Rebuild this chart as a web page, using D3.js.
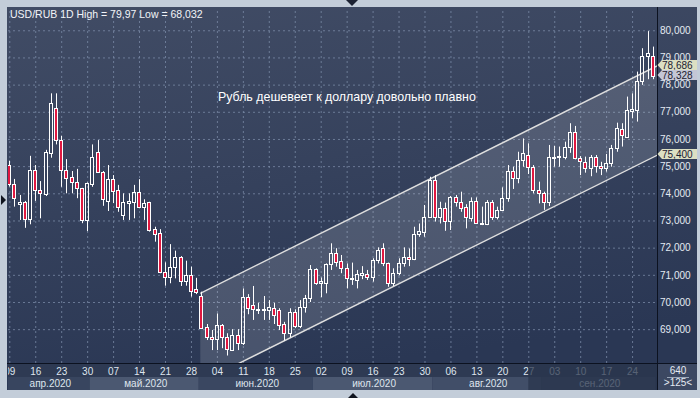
<!DOCTYPE html>
<html>
<head>
<meta charset="utf-8">
<script src="https://cdnjs.cloudflare.com/ajax/libs/d3/7.8.5/d3.min.js"></script>
<style>
  body { margin: 0; background: #c3cdd9; }
  svg { display: block; font-family: "Liberation Sans", Arial, sans-serif; }
</style>
</head>
<body>
<div id="chart"></div>
<script>
// Trading days shown (one bar per weekday)
var dates = [
  "2020-04-09","2020-04-10","2020-04-13","2020-04-14","2020-04-15","2020-04-16","2020-04-17","2020-04-20","2020-04-21","2020-04-22",
  "2020-04-23","2020-04-24","2020-04-27","2020-04-28","2020-04-29","2020-04-30","2020-05-01","2020-05-04","2020-05-05","2020-05-06",
  "2020-05-07","2020-05-08","2020-05-11","2020-05-12","2020-05-13","2020-05-14","2020-05-15","2020-05-18","2020-05-19","2020-05-20",
  "2020-05-21","2020-05-22","2020-05-25","2020-05-26","2020-05-27","2020-05-28","2020-05-29","2020-06-01","2020-06-02","2020-06-03",
  "2020-06-04","2020-06-05","2020-06-08","2020-06-09","2020-06-10","2020-06-11","2020-06-12","2020-06-15","2020-06-16","2020-06-17",
  "2020-06-18","2020-06-19","2020-06-22","2020-06-23","2020-06-24","2020-06-25","2020-06-26","2020-06-29","2020-06-30","2020-07-01",
  "2020-07-02","2020-07-03","2020-07-06","2020-07-07","2020-07-08","2020-07-09","2020-07-10","2020-07-13","2020-07-14","2020-07-15",
  "2020-07-16","2020-07-17","2020-07-20","2020-07-21","2020-07-22","2020-07-23","2020-07-24","2020-07-27","2020-07-28","2020-07-29",
  "2020-07-30","2020-07-31","2020-08-03","2020-08-04","2020-08-05","2020-08-06","2020-08-07","2020-08-10","2020-08-11","2020-08-12",
  "2020-08-13","2020-08-14","2020-08-17","2020-08-18","2020-08-19","2020-08-20","2020-08-21","2020-08-24","2020-08-25","2020-08-26",
  "2020-08-27","2020-08-28","2020-08-31","2020-09-01","2020-09-02","2020-09-03","2020-09-04","2020-09-07","2020-09-08","2020-09-09",
  "2020-09-10","2020-09-11","2020-09-14","2020-09-15","2020-09-16","2020-09-17","2020-09-18","2020-09-21","2020-09-22","2020-09-23",
  "2020-09-24","2020-09-25","2020-09-28","2020-09-29","2020-09-30"
];

var open = [
  75.04,74.34,73.62,73.67,73.04,74.85,74.11,73.97,75.50,77.13,
  75.96,74.85,74.60,74.41,74.18,73.02,74.36,75.51,74.80,73.73,
  74.52,74.11,73.20,73.65,73.69,74.04,73.49,73.67,72.68,72.53,
  71.09,70.91,71.30,71.64,70.77,70.98,70.48,70.22,69.07,68.70,
  68.63,69.15,68.71,68.25,68.79,68.50,70.18,69.88,69.72,69.75,
  69.71,69.77,69.71,69.19,68.85,69.63,69.12,69.81,70.14,71.20,
  70.71,70.71,71.40,71.79,71.51,71.24,70.87,70.81,71.00,71.03,
  70.93,71.56,71.97,71.42,70.69,71.08,71.42,71.67,71.60,72.52,
  72.59,73.14,74.49,73.14,73.47,72.99,73.85,73.67,73.51,73.08,
  73.72,72.92,72.86,73.67,73.14,73.39,73.82,74.82,74.58,75.23,
  75.41,74.96,74.12,74.00,73.69,75.30,75.33,75.35,75.69,76.27,
  75.29,75.16,74.92,75.33,75.00,74.92,75.10,75.66,76.37,76.08,
  77.04,77.07,78.13,79.07,79.05
];
var high = [
  75.20,74.53,73.94,73.72,75.38,75.04,74.45,75.60,77.68,77.68,
  76.12,75.26,74.82,74.90,74.20,74.40,75.80,75.96,74.82,75.04,
  74.67,74.31,74.00,74.00,74.31,74.52,73.78,73.69,72.77,72.68,
  71.46,72.13,71.89,71.69,71.52,71.30,70.89,70.38,69.19,68.97,
  69.58,69.19,68.85,69.00,69.00,70.50,70.29,70.59,69.97,70.22,
  70.07,69.97,69.77,69.27,69.77,69.73,70.07,70.26,71.36,71.24,
  70.90,71.42,72.16,71.98,71.73,71.42,71.45,71.18,71.32,71.18,
  71.61,72.01,72.16,71.45,71.24,71.61,72.01,71.97,72.77,72.89,
  73.57,74.61,74.67,73.69,73.66,73.90,73.94,74.06,73.60,73.85,
  73.85,73.51,73.75,73.75,73.51,74.22,75.04,74.98,75.53,76.02,
  75.84,75.04,74.43,74.06,75.78,75.75,75.72,75.90,76.58,76.48,
  75.37,75.35,75.41,75.41,75.16,75.45,75.78,76.60,76.58,77.56,
  77.68,78.48,79.34,79.97,79.40
];
var low = [
  74.25,73.51,73.02,72.73,72.86,73.72,73.08,73.90,75.31,75.80,
  74.24,74.00,74.00,73.82,72.90,72.61,74.24,74.77,73.54,73.35,
  73.64,73.32,73.02,73.02,73.08,73.45,73.02,72.59,72.22,71.06,
  70.60,70.69,70.87,70.59,70.60,70.20,70.29,69.03,68.60,68.23,
  68.23,68.30,68.03,68.23,68.23,68.42,69.55,69.34,69.56,69.34,
  69.34,69.19,68.97,68.58,68.70,69.04,69.04,69.61,70.00,70.63,
  70.18,70.32,71.18,71.30,71.06,70.50,70.63,70.50,70.84,70.81,
  70.75,71.42,71.32,70.56,70.59,70.99,71.30,71.32,71.54,72.40,
  72.40,73.12,72.96,72.89,72.62,72.65,73.51,73.32,72.71,72.96,
  72.90,72.83,72.83,73.02,73.04,73.36,73.69,74.16,74.37,74.98,
  74.71,74.00,73.63,73.39,73.53,74.98,74.98,75.25,75.49,75.25,
  74.67,74.76,74.63,74.76,74.67,74.80,74.98,75.53,75.72,76.06,
  76.76,76.64,77.99,78.20,78.20
];
var close = [
  74.33,73.82,73.68,73.04,74.85,74.11,74.00,75.51,77.31,75.96,
  74.85,74.58,74.41,74.18,73.02,74.37,75.35,74.80,73.78,74.52,
  74.09,73.51,73.69,73.70,74.04,73.49,73.63,72.65,72.49,71.09,
  70.91,71.30,71.64,70.77,70.98,70.42,70.36,69.05,68.70,68.63,
  69.15,68.71,68.28,68.79,68.50,70.18,69.77,69.73,69.75,69.72,
  69.81,69.52,69.15,68.85,69.63,69.12,69.81,70.14,71.20,70.71,
  70.78,71.40,71.79,71.48,71.24,70.87,70.90,71.02,71.05,70.93,
  71.54,71.91,71.42,70.69,71.08,71.42,71.67,71.60,72.52,72.61,
  73.14,74.49,73.14,73.47,72.97,73.86,73.67,73.47,73.12,73.72,
  72.92,72.86,73.67,73.14,73.39,73.82,74.82,74.58,75.23,75.47,
  74.96,74.12,74.00,73.69,75.33,75.35,75.38,75.69,76.27,75.29,
  75.19,74.92,75.33,75.00,74.92,75.10,75.66,76.39,76.13,77.07,
  77.09,78.13,79.07,79.15,78.33
];

var tickDates = [
  "2020-04-09","2020-04-16","2020-04-23","2020-04-30","2020-05-07","2020-05-14","2020-05-21","2020-05-28",
  "2020-06-04","2020-06-11","2020-06-18","2020-06-25","2020-07-02","2020-07-09","2020-07-16","2020-07-23",
  "2020-07-30","2020-08-06","2020-08-13","2020-08-20","2020-08-27","2020-09-03","2020-09-10","2020-09-17","2020-09-24"
];
var monthKeys = ["2020-04","2020-05","2020-06","2020-07","2020-08","2020-09"];
var monthLabels = ["апр.2020","май.2020","июн.2020","июл.2020","авг.2020","сен.2020"];
var priceTicks = [69,70,71,72,73,74,75,76,77,78,79,80];

// price channel: bar index -> upper / lower line values
var channelIdx = [36.8, 124.8];
var channelUpper = [70.32, 78.686];
var channelLower = [67.034, 75.400];

var markValues = [78.686, 78.328, 75.400];
var markColors = ["#dcdfc3", "#c4c7d6", "#dcdfc3"];

var titleText = "USD/RUB 1D High = 79,97 Low = 68,032";
var noteText = "Рубль дешевеет к доллару довольно плавно";
var shadeFrom = "2020-08-27";

(function() {
  var W = 700, H = 398;
  var L = 8, R = 657, T = 8, B = 363;

  var svg = d3.select('#chart').append('svg')
    .attr('width', W).attr('height', H);

  var defs = svg.append('defs');
  var grad = defs.append('linearGradient').attr('id', 'bg')
    .attr('x1', 0).attr('y1', 0).attr('x2', 0.25).attr('y2', 1);
  grad.append('stop').attr('offset', '0%').attr('stop-color', '#414c65');
  grad.append('stop').attr('offset', '100%').attr('stop-color', '#2a3754');

  defs.append('clipPath').attr('id', 'plot')
    .append('rect').attr('x', L).attr('y', T).attr('width', R - L).attr('height', B - T);
  defs.append('clipPath').attr('id', 'xaxis')
    .append('rect').attr('x', L).attr('y', B).attr('width', R - L).attr('height', 27);

  svg.append('rect').attr('width', W).attr('height', H).attr('fill', '#c3cdd9');
  svg.append('rect').attr('x', 7).attr('y', 7).attr('width', 690).attr('height', 383)
    .attr('fill', 'url(#bg)');

  // scales
  var x = d3.scaleLinear().domain([-0.25, 124.8]).range([L, R]);
  var y = d3.scaleLinear().domain([67.755, 80.82]).range([B, T]);

  var tickIdx = tickDates.map(function(d) { return dates.indexOf(d); });

  // grid
  var gy = svg.append('g').attr('transform', 'translate(' + L + ',0)')
    .call(d3.axisLeft(y).tickValues(priceTicks).tickSize(-(R - L)).tickFormat(''));
  var gx = svg.append('g').attr('transform', 'translate(0,' + B + ')')
    .call(d3.axisBottom(x).tickValues(tickIdx).tickSize(-(B - T)).tickFormat(''));
  [gy, gx].forEach(function(g) {
    g.select('.domain').remove();
    g.selectAll('line').attr('stroke', '#7d8daa').attr('stroke-opacity', 0.75)
      .attr('stroke-dasharray', '2,3');
  });

  var plot = svg.append('g').attr('clip-path', 'url(#plot)');

  // channel
  var poly = [
    [x(channelIdx[0]), y(channelUpper[0])], [x(channelIdx[1]), y(channelUpper[1])],
    [x(channelIdx[1]), y(channelLower[1])], [x(channelIdx[0]), y(channelLower[0])]
  ];
  plot.append('path').attr('d', 'M' + poly.join('L') + 'Z')
    .attr('fill', '#ffffff').attr('fill-opacity', 0.14);
  [channelUpper, channelLower].forEach(function(v) {
    plot.append('line')
      .attr('x1', x(channelIdx[0])).attr('y1', y(v[0]))
      .attr('x2', x(channelIdx[1])).attr('y2', y(v[1]))
      .attr('stroke', '#dedede').attr('stroke-width', 1.4);
  });

  // candles
  var bars = plot.selectAll('g.c').data(dates).enter().append('g').attr('class', 'c');
  bars.each(function(d, i) {
    var g = d3.select(this);
    var cx = Math.round(x(i));
    var top = Math.round(y(Math.max(open[i], close[i])));
    var bot = Math.round(y(Math.min(open[i], close[i])));
    if (bot - top < 1) bot = top + 1;
    var up = close[i] >= open[i];
    g.append('line').attr('x1', cx + 0.5).attr('x2', cx + 0.5)
      .attr('y1', y(high[i])).attr('y2', top)
      .attr('stroke', '#ffffff');
    g.append('line').attr('x1', cx + 0.5).attr('x2', cx + 0.5)
      .attr('y1', bot).attr('y2', y(low[i]))
      .attr('stroke', '#ffffff');
    g.append('rect')
      .attr('x', cx - 1.5).attr('y', top + 0.5)
      .attr('width', 3).attr('height', bot - top)
      .attr('fill', up ? 'none' : '#e01840')
      .attr('stroke', '#ffffff').attr('stroke-width', 1);
  });

  // texts
  svg.append('text').attr('x', 10).attr('y', 18).text(titleText)
    .attr('fill', '#f2f4f8').attr('font-size', '10.5px');
  svg.append('text').attr('x', 218).attr('y', 101).text(noteText)
    .attr('fill', '#ffffff').attr('font-size', '12.4px');

  // x axis rows
  var xa = svg.append('g').attr('clip-path', 'url(#xaxis)');
  xa.append('rect').attr('x', L).attr('y', B).attr('width', R - L).attr('height', 14)
    .attr('fill', '#2e3a53');
  var bandColors = ['#38455f', '#4b5871', '#3a4761', '#4b5871', '#414e68', '#3a4660'];
  monthKeys.forEach(function(m, k) {
    var idx = dates.map(function(d, i) { return d.slice(0, 7) === m ? i : -1; })
      .filter(function(i) { return i >= 0; });
    var x0 = Math.max(L, x(idx[0] - 0.5)), x1 = Math.min(R, x(idx[idx.length - 1] + 0.5));
    xa.append('rect').attr('x', x0).attr('y', B + 14).attr('width', x1 - x0).attr('height', 13)
      .attr('fill', bandColors[k]);
    xa.append('text').attr('x', (x0 + x1) / 2 + 1.5).attr('y', B + 24).text(monthLabels[k])
      .attr('text-anchor', 'middle').attr('fill', '#dfe5ee').attr('font-size', '10px');
  });

  var dayAxis = xa.append('g').attr('transform', 'translate(0,' + B + ')')
    .call(d3.axisBottom(x).tickValues(tickIdx).tickSize(0)
      .tickFormat(function(d) { return dates[d].slice(8, 10); }));
  dayAxis.select('.domain').remove();
  dayAxis.selectAll('text').attr('y', 12).attr('dy', null)
    .attr('fill', '#dfe5ee').attr('font-size', '10px').attr('font-family', null);

  var sx = x(dates.indexOf(shadeFrom));
  xa.append('rect').attr('x', sx).attr('y', B).attr('width', R - sx).attr('height', 27)
    .attr('fill', '#2a354c').attr('fill-opacity', 0.75);

  // frame lines
  svg.append('line').attr('x1', R + 0.5).attr('x2', R + 0.5).attr('y1', 7).attr('y2', 390)
    .attr('stroke', '#0c1220');
  svg.append('line').attr('x1', 7).attr('x2', 697).attr('y1', B + 0.5).attr('y2', B + 0.5)
    .attr('stroke', '#0c1220');

  // y axis
  var fmt = function(v) { return d3.format('.3f')(v).replace('.', ','); };
  var ya = svg.append('g').attr('transform', 'translate(' + R + ',0)')
    .call(d3.axisRight(y).tickValues(priceTicks).tickSize(0).tickPadding(3).tickFormat(fmt));
  ya.select('.domain').remove();
  ya.selectAll('text').attr('fill', '#e4eaf2').attr('font-size', '10px').attr('font-family', null);

  // price marks (drawn over the axis labels, as in the terminal)
  var lastBottom = -100;
  markValues.forEach(function(v, k) {
    var cy = Math.round(y(v)) - 1;
    if (cy - 5 < lastBottom) cy = lastBottom + 5;
    lastBottom = cy + 5;
    svg.append('path')
      .attr('d', 'M' + (R + 0.5) + ',' + cy + 'L' + (R + 5) + ',' + (cy - 5) + 'L697,' + (cy - 5) +
        'L697,' + (cy + 5) + 'L' + (R + 5) + ',' + (cy + 5) + 'Z')
      .attr('fill', markColors[k]);
    svg.append('text').attr('x', R + 5).attr('y', cy + 4).text(fmt(v))
      .attr('fill', '#1c2030').attr('font-size', '10px');
  });

  // bottom right corner
  svg.append('rect').attr('x', R + 1).attr('y', B + 1).attr('width', 697 - R - 1).attr('height', 26)
    .attr('fill', '#3c4862');
  svg.append('text').attr('x', 678).attr('y', 374).text('640').attr('text-anchor', 'middle')
    .attr('fill', '#e4eaf2').attr('font-size', '10px');
  svg.append('line').attr('x1', 667).attr('x2', 689).attr('y1', 377.5).attr('y2', 377.5)
    .attr('stroke', '#9aa6b8');
  svg.append('text').attr('x', 678).attr('y', 386).text('>125<').attr('text-anchor', 'middle')
    .attr('fill', '#e4eaf2').attr('font-size', '10px');

  // scroll markers
  svg.append('path').attr('d', 'M346,0L358,0L352,6Z').attr('fill', '#1c2233');
  svg.append('path').attr('d', 'M348,398L358,398L353,393Z').attr('fill', '#10141e');
  svg.append('path').attr('d', 'M1,195L1,205L6,200Z').attr('fill', '#10141e');
})();
</script>
</body>
</html>
